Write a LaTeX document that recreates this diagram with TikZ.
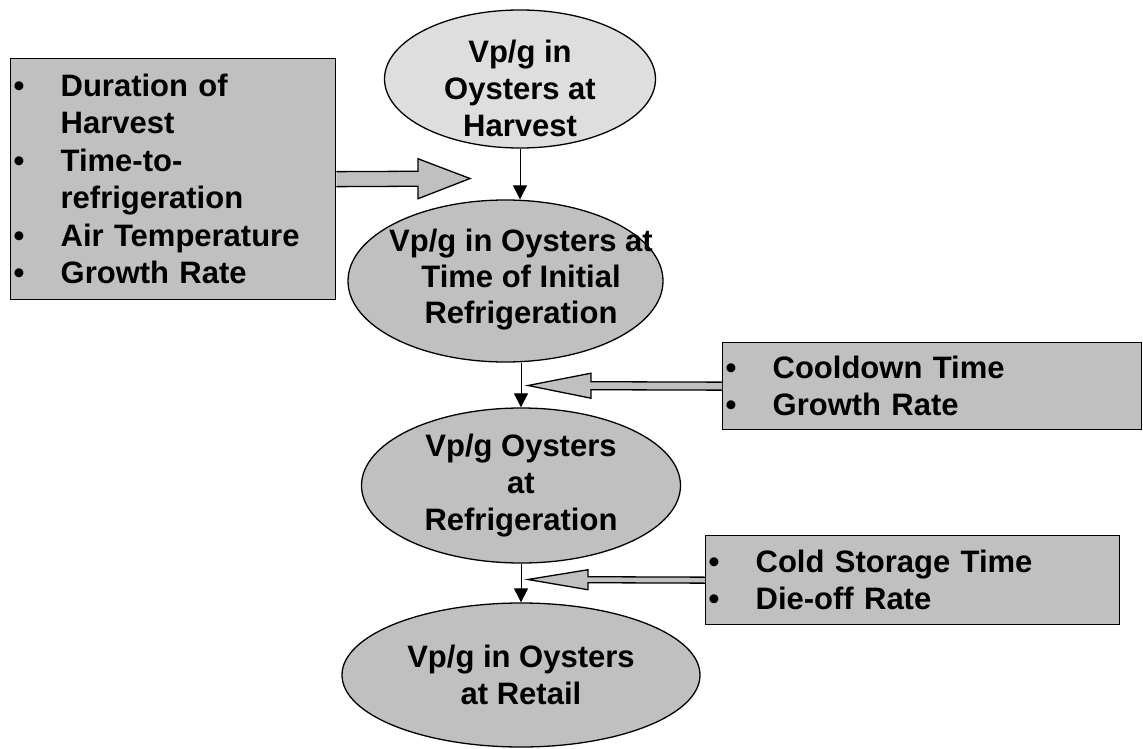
\documentclass[tikz,border=0pt]{standalone}
\usepackage{fontspec}
\setmainfont{Liberation Sans}
\usetikzlibrary{shapes.geometric}
\usetikzlibrary{arrows.meta}
\usetikzlibrary{calc}

\definecolor{lightoval}{gray}{0.87}
\definecolor{midgray}{gray}{0.753}

% bullet lines for the factor boxes
\newcommand{\bul}[1]{\makebox[47pt][l]{\textbullet}#1}
\newcommand{\cnt}[1]{\hspace*{47pt}#1}

% hollow block arrow: box edge #1, tip #2, shaft half width #3, head half width #4, head length #5
\newcommand{\blockarrow}[5]{%
  \coordinate (back) at ($(#2)!#5pt!(#1)$);
  \fill[midgray] ($(#1)+(0,#3)$) -- ($(back)+(0,#3)$) -- ($(back)+(0,#4)$) -- (#2)
                 -- ($(back)+(0,-#4)$) -- ($(back)+(0,-#3)$) -- ($(#1)+(0,-#3)$) -- cycle;
  \draw[line join=miter] ($(#1)+(0,#3)$) -- ($(back)+(0,#3)$) -- ($(back)+(0,#4)$) -- (#2)
                 -- ($(back)+(0,-#4)$) -- ($(back)+(0,-#3)$) -- ($(#1)+(0,-#3)$);
}

\begin{document}
\begin{tikzpicture}[x=1pt, y=-1pt, line width=1.3pt,
    oval/.style={ellipse, draw, fill=midgray, inner sep=-60pt, align=center,
                 font=\fontsize{31}{37}\selectfont\bfseries},
    ovaltext/.style={align=center, font=\fontsize{31}{36}\selectfont\bfseries},
    factbox/.style={rectangle, draw, fill=midgray, inner xsep=3pt, inner ysep=0pt,
                 align=left, anchor=north west, font=\fontsize{31}{37.5}\selectfont\bfseries},
    flow/.style={line width=1pt, -{Triangle[width=14pt,length=14pt]}}]
    \useasboundingbox (0,0) rectangle (1143,749);

    % draw the four stages
    \node[oval, fill=lightoval, minimum width=271, minimum height=138] (harv) at (520,79)
        {\rule{0pt}{42pt}Vp/g in\\Oysters at\\Harvest};
    \node[oval, minimum width=315, minimum height=162] (init) at (505.5,281) {};
    \node[ovaltext] (inittxt) at (521,280) {Vp/g in Oysters at\\Time of Initial\\Refrigeration};
    \node[oval, minimum width=319, minimum height=155] (refr) at (521,485.5)
        {Vp/g Oysters\\at\\Refrigeration};
    \node[oval, minimum width=358, minimum height=144] (retail) at (521,675)
        {Vp/g in Oysters\\at Retail};

    % draw the factor boxes
    \node[factbox, minimum width=325, minimum height=241, text width=319] (facts) at (10,58)
        {\bul{Duration of}\\\cnt{Harvest}\\\bul{Time-to-}\\\cnt{refrigeration}\\
         \bul{Air Temperature}\\\bul{Growth Rate}};
    \node[factbox, minimum width=419, minimum height=87, text width=413] (cool) at (722,342)
        {\bul{Cooldown Time}\\\bul{Growth Rate}};
    \node[factbox, minimum width=414, minimum height=89, text width=408] (store) at (705,535)
        {\bul{Cold Storage Time}\\\bul{Die-off Rate}};

    % draw the flow between stages
    \draw[flow] (harv.south) -- (harv.south |- init.north);
    \draw[flow] (refr.north |- init.south) -- (refr.north);
    \draw[flow] (refr.south) -- (retail.north);

    % draw the block arrows from the boxes
    \coordinate (tipA) at (470,178.5);
    \coordinate (tipB) at (528,385.5);
    \coordinate (tipC) at (528,579.5);
    \blockarrow{facts.east}{tipA}{7.5}{20}{52}
    \blockarrow{cool.west}{tipB}{4}{12.5}{63}
    \blockarrow{store.west}{tipC}{3}{10}{60}
\end{tikzpicture}
\end{document}
